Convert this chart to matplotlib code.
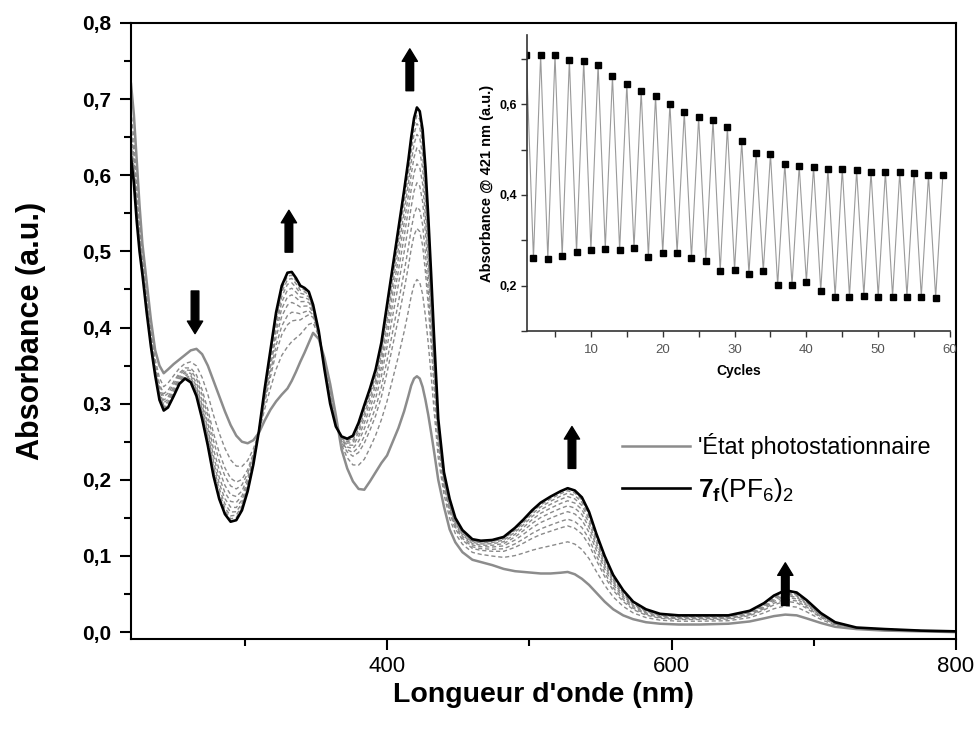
import numpy as np
import matplotlib
matplotlib.use("Agg")
import matplotlib.pyplot as plt
from matplotlib.ticker import MultipleLocator, FuncFormatter

plt.rcParams['font.family'] = ['Liberation Sans', 'DejaVu Sans']
plt.rcParams['mathtext.fontset'] = 'custom'
plt.rcParams['mathtext.rm'] = 'Liberation Sans'
plt.rcParams['mathtext.bf'] = 'Liberation Sans:bold'

# --- spectra --------------------------------------------------------------
wavelength = [220, 222, 224, 226, 228, 231, 234, 237, 240, 243, 246, 250, 254,
              258, 262, 266, 270, 274, 278, 282, 286, 290, 294, 298, 302, 306,
              310, 314, 318, 322, 326, 330, 333, 336, 339, 342, 345, 348, 352,
              356, 360, 364, 368, 372, 376, 380, 384, 388, 392, 396, 400, 404,
              408, 412, 415, 417, 419, 421, 423, 425, 427, 429, 431, 433, 436,
              440, 444, 448, 453, 460, 466, 474, 482, 490, 496, 502, 508, 515,
              522, 527, 532, 537, 542, 547, 553, 559, 566, 573, 582, 592, 605,
              620, 640, 655, 665, 672, 680, 688, 695, 705, 715, 730, 750, 775,
              800]

# final spectrum 7f(PF6)2
abs_final = [0.623, 0.590, 0.540, 0.500, 0.470, 0.420, 0.375, 0.337, 0.305,
             0.291, 0.295, 0.310, 0.326, 0.333, 0.328, 0.310, 0.280, 0.245,
             0.205, 0.175, 0.155, 0.145, 0.147, 0.160, 0.185, 0.220, 0.265,
             0.320, 0.370, 0.420, 0.455, 0.472, 0.473, 0.465, 0.455, 0.452,
             0.447, 0.430, 0.395, 0.345, 0.300, 0.270, 0.257, 0.254, 0.258,
             0.275, 0.298, 0.320, 0.345, 0.380, 0.430, 0.480, 0.530, 0.580,
             0.620, 0.650, 0.675, 0.689, 0.684, 0.660, 0.610, 0.545, 0.470,
             0.390, 0.280, 0.210, 0.175, 0.150, 0.134, 0.122, 0.120, 0.121,
             0.125, 0.137, 0.148, 0.160, 0.170, 0.178, 0.185, 0.189, 0.186,
             0.177, 0.158, 0.130, 0.100, 0.075, 0.055, 0.040, 0.030, 0.024,
             0.022, 0.022, 0.022, 0.028, 0.038, 0.048, 0.055, 0.052, 0.042,
             0.025, 0.013, 0.006, 0.004, 0.002, 0.001]

# photostationary state
abs_pss = [0.720, 0.680, 0.620, 0.560, 0.510, 0.460, 0.410, 0.370, 0.350,
           0.340, 0.345, 0.352, 0.358, 0.364, 0.370, 0.372, 0.365, 0.350,
           0.330, 0.310, 0.290, 0.272, 0.258, 0.250, 0.248, 0.252, 0.262,
           0.278, 0.292, 0.303, 0.312, 0.320, 0.330, 0.342, 0.355, 0.367,
           0.380, 0.393, 0.385, 0.360, 0.326, 0.285, 0.240, 0.215, 0.198,
           0.188, 0.187, 0.198, 0.210, 0.222, 0.232, 0.250, 0.268, 0.290,
           0.310, 0.324, 0.333, 0.336, 0.333, 0.322, 0.305, 0.285, 0.262,
           0.238, 0.200, 0.165, 0.135, 0.118, 0.105, 0.095, 0.092, 0.088,
           0.083, 0.080, 0.079, 0.078, 0.077, 0.077, 0.078, 0.079, 0.076,
           0.070, 0.062, 0.052, 0.040, 0.030, 0.022, 0.017, 0.013, 0.011,
           0.010, 0.010, 0.011, 0.014, 0.018, 0.021, 0.023, 0.022, 0.018,
           0.012, 0.007, 0.004, 0.002, 0.001, 0.000]

# conversion reached by each intermediate (dashed) spectrum, read at 421 nm
conversion = [0.36, 0.55, 0.63, 0.72, 0.79, 0.85, 0.90, 0.94, 0.97]

# --- inset: absorbance at 421 nm over the cycles --------------------------
cycles = list(range(1, 60))
abs_high = [0.709, 0.708, 0.708, 0.697, 0.696, 0.687, 0.661, 0.644, 0.629,
            0.618, 0.601, 0.582, 0.571, 0.565, 0.549, 0.518, 0.493, 0.490,
            0.469, 0.464, 0.462, 0.457, 0.458, 0.454, 0.451, 0.451, 0.451,
            0.449, 0.443, 0.443]
abs_low = [0.260, 0.259, 0.265, 0.274, 0.279, 0.282, 0.278, 0.283, 0.264,
           0.272, 0.272, 0.261, 0.254, 0.232, 0.235, 0.226, 0.232, 0.201,
           0.202, 0.209, 0.189, 0.176, 0.176, 0.178, 0.176, 0.176, 0.176,
           0.176, 0.174]


def comma(v, pos):
    return f"{v:.1f}".replace('.', ',')


def main():
    wl = np.array(wavelength)
    a_final = np.array(abs_final)
    a_pss = np.array(abs_pss)

    fig = plt.figure(figsize=(9.77, 7.31), dpi=100)
    ax = fig.add_axes([0.1341, 0.1259, 0.8444, 0.8427])

    for f in conversion:
        ax.plot(wl, a_pss + f * (a_final - a_pss), color='#8a8a8a', lw=1.0,
                ls=(0, (3, 2)))
    l_pss, = ax.plot(wl, a_pss, color='#8c8c8c', lw=1.8)
    l_fin, = ax.plot(wl, a_final, color='black', lw=1.9)

    ax.set_xlim(220, 800)
    ax.set_ylim(-0.009, 0.8)
    ax.xaxis.set_major_locator(MultipleLocator(200))
    ax.xaxis.set_minor_locator(MultipleLocator(100))
    ax.yaxis.set_major_locator(MultipleLocator(0.1))
    ax.yaxis.set_minor_locator(MultipleLocator(0.05))
    ax.yaxis.set_major_formatter(FuncFormatter(comma))
    ax.tick_params(which='major', direction='out', length=8, width=1.5)
    ax.tick_params(which='minor', direction='out', length=5, width=1.5)
    ax.tick_params(axis='y', labelsize=15, pad=6)
    ax.tick_params(axis='x', labelsize=16, pad=4)
    for t in ax.get_yticklabels():
        t.set_fontweight('bold')
    for s in ax.spines.values():
        s.set_linewidth(1.5)

    ax.set_xlabel("Longueur d'onde (nm)", fontsize=20.5, fontweight='bold',
                  labelpad=4)
    ax.set_ylabel("Absorbance (a.u.)", fontsize=22, fontweight='bold',
                  labelpad=26)

    # block arrows
    arrows = [((265, 0.448), (265, 0.392)),
              ((331, 0.499), (331, 0.554)),
              ((416, 0.711), (416, 0.766)),
              ((530, 0.215), (530, 0.270)),
              ((680, 0.035), (680, 0.091))]
    for tail, tip in arrows:
        ax.annotate('', xy=tip, xytext=tail,
                    arrowprops=dict(arrowstyle='simple,head_width=1.1,'
                                    'head_length=0.9,tail_width=0.55',
                                    color='black', shrinkA=0, shrinkB=0,
                                    mutation_scale=10))

    leg = ax.legend([l_pss, l_fin],
                    ["'État photostationnaire",
                     r"$\mathbf{7_f}(\mathrm{PF}_6)_2$"],
                    loc='upper left', bbox_to_anchor=(0.595, 0.334),
                    frameon=False, fontsize=16.8, handlelength=2.9,
                    handletextpad=0.35, labelspacing=0.7, borderpad=0,
                    borderaxespad=0)
    leg.get_texts()[1].set_fontsize(19)

    # inset
    ins = fig.add_axes([0.5394, 0.547, 0.433, 0.405])
    ins.plot(cycles, [v for pair in zip(abs_high, abs_low + [None])
                      for v in pair if v is not None],
             color='#9a9a9a', lw=0.8)
    ins.plot(cycles[0::2], abs_high, 's', color='black', ms=5)
    ins.plot(cycles[1::2], abs_low, 's', color='black', ms=5)
    ins.set_xlim(1.1, 60)
    ins.set_ylim(0.1, 0.752)
    ins.spines['top'].set_visible(False)
    ins.spines['right'].set_visible(False)
    for s in ('left', 'bottom'):
        ins.spines[s].set_linewidth(1.2)
        ins.spines[s].set_color('#333333')
    ins.xaxis.set_major_locator(MultipleLocator(10))
    ins.xaxis.set_minor_locator(MultipleLocator(5))
    ins.yaxis.set_major_locator(MultipleLocator(0.2))
    ins.yaxis.set_minor_locator(MultipleLocator(0.1))
    ins.yaxis.set_major_formatter(FuncFormatter(comma))
    ins.tick_params(which='both', direction='out', length=4, width=1,
                    color='#333333')
    ins.tick_params(axis='x', labelsize=9.5, labelcolor='#555555', pad=5)
    ins.tick_params(axis='y', labelsize=9, pad=3)
    for t in ins.get_yticklabels():
        t.set_fontweight('bold')
    ins.set_xlabel("Cycles", fontsize=10, fontweight='bold', labelpad=6)
    ins.set_ylabel("Absorbance @ 421 nm (a.u.)", fontsize=10.5,
                   fontweight='bold', labelpad=4)

    fig.savefig("out.png", dpi=100)


if __name__ == '__main__':
    main()
